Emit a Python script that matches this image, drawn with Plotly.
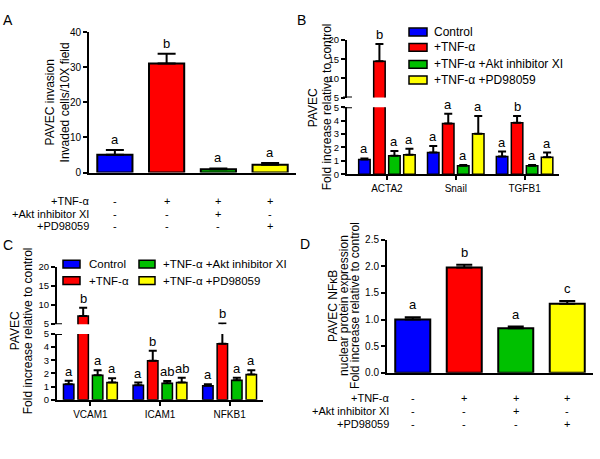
import plotly.graph_objects as go

FONT = "Arial, Liberation Sans, Helvetica, sans-serif"
COLORS = ["#0000FF", "#FF0000", "#00C000", "#FFFF00"]
SERIES = ["Control", "+TNF-α", "+TNF-α +Akt inhibitor XI", "+TNF-α +PD98059"]

# ---------------- Panel A: invasion ----------------
a_values = [5.1, 31.1, 0.9, 2.2]
a_errors = [1.3, 2.8, 0.25, 0.5]
a_letters = ["a", "b", "a", "a"]

# treatment table (shared by A and D)
row_labels = ["+TNF-α", "+Akt inhibitor XI", "+PD98059"]
row_tnf = ["-", "+", "+", "+"]
row_akt = ["-", "-", "+", "-"]
row_pd = ["-", "-", "-", "+"]

# ---------------- Panel B ----------------
b_genes = ["ACTA2", "Snail", "TGFB1"]
b_control = [1.09, 1.62, 1.33]
b_control_err = [0.09, 0.48, 0.36]
b_tnf = [14.5, 3.79, 3.84]
b_tnf_err = [4.5, 0.73, 0.51]
b_akt = [1.38, 0.63, 0.63]
b_akt_err = [0.36, 0.05, 0.05]
b_pd = [1.45, 3.02, 1.26]
b_pd_err = [0.46, 1.33, 0.36]
b_letters = [["a", "a", "a"], ["b", "a", "b"], ["a", "a", "a"], ["a", "a", "a"]]

# ---------------- Panel C ----------------
c_genes = ["VCAM1", "ICAM1", "NFKB1"]
c_control = [1.18, 1.10, 1.06]
c_control_err = [0.27, 0.20, 0.12]
c_tnf = [7.1, 2.96, 4.26]
c_tnf_err = [2.2, 0.76, 0.94]
c_akt = [1.85, 1.26, 1.48]
c_akt_err = [0.39, 0.17, 0.19]
c_pd = [1.30, 1.30, 1.92]
c_pd_err = [0.33, 0.37, 0.32]
c_letters = [["a", "a", "a"], ["b", "b", "b"], ["a", "ab", "a"], ["a", "ab", "a"]]

# ---------------- Panel D ----------------
d_values = [1.00, 1.98, 0.84, 1.30]
d_errors = [0.045, 0.05, 0.03, 0.05]
d_letters = ["a", "b", "a", "c"]

W, H = 600, 459


def px(x):
    return x / W


def py(y):
    return 1 - y / H


fig = go.Figure()
annotations = []
shapes = []


def err(arr, cap, thick=2):
    return dict(type="data", array=arr, arrayminus=[0] * len(arr), symmetric=False,
                color="black", thickness=thick, width=cap)


# ---- Panel A ----
a_x = list(range(len(a_values)))
fig.add_trace(go.Bar(x=a_x, y=a_values, width=0.68, marker=dict(color=COLORS, line=dict(color="black", width=2)),
                     error_y=err(a_errors, 9), xaxis="x", yaxis="y", showlegend=False))
for i, (v, e, t) in enumerate(zip(a_values, a_errors, a_letters)):
    annotations.append(dict(x=i, y=v + e, xref="x", yref="y", text=t, showarrow=False,
                            yanchor="bottom", yshift=1, font=dict(size=13)))

# ---- Panel D ----
fig.add_trace(go.Bar(x=a_x, y=d_values, width=0.68, marker=dict(color=COLORS, line=dict(color="black", width=2)),
                     error_y=err(d_errors, 8), xaxis="x4", yaxis="y6", showlegend=False))
for i, (v, e, t) in enumerate(zip(d_values, d_errors, d_letters)):
    annotations.append(dict(x=i, y=v + e, xref="x4", yref="y6", text=t, showarrow=False,
                            yanchor="bottom", yshift=3, font=dict(size=13)))


# ---- tables for A and D ----
def table(xref, label_x, rows_y):
    for rl, row, yy in zip(row_labels, [row_tnf, row_akt, row_pd], rows_y):
        annotations.append(dict(x=px(label_x), y=py(yy), xref="paper", yref="paper", text=rl,
                                showarrow=False, xanchor="right", yanchor="middle", font=dict(size=11)))
        for i, s in enumerate(row):
            annotations.append(dict(x=i, y=py(yy), xref=xref, yref="paper", text=s, showarrow=False,
                                    yanchor="middle", font=dict(size=11)))


table("x", 91, [200.7, 213.3, 226])
table("x4", 391, [402.7, 415.7, 429])


# ---- grouped broken-axis panels ----
def grouped(series_vals, series_errs, letters, xa, ybot, ytop, step, w, cap):
    n = len(series_vals[0])
    xs = list(range(n))
    for si, (vals, errs) in enumerate(zip(series_vals, series_errs)):
        off = (si - 2) * step + (step - w) / 2
        for ya in (ybot, ytop):
            fig.add_trace(go.Bar(x=xs, y=vals, width=w, offset=off,
                                 marker=dict(color=COLORS[si], line=dict(color="black", width=1.5)),
                                 error_y=err(errs, cap), xaxis=xa, yaxis=ya, showlegend=False))
        for gi in range(n):
            top = vals[gi] + errs[gi]
            ya = ytop if top > 5 else ybot
            annotations.append(dict(x=gi + off + w / 2, y=top, xref=xa, yref=ya, text=letters[si][gi],
                                    showarrow=False, yanchor="bottom", yshift=0, font=dict(size=13)))


grouped([b_control, b_tnf, b_akt, b_pd], [b_control_err, b_tnf_err, b_akt_err, b_pd_err], b_letters,
        "x2", "y2", "y3", 0.218, 0.167, 4)
grouped([c_control, c_tnf, c_akt, c_pd], [c_control_err, c_tnf_err, c_akt_err, c_pd_err], c_letters,
        "x3", "y4", "y5", 0.208, 0.15, 4)

# break marks
for yref, xpix in (("y2", 347), ("y3", 347), ("y4", 57), ("y5", 57)):
    shapes.append(dict(type="line", xref="paper", yref=yref, x0=px(xpix - 4), x1=px(xpix + 5), y0=5, y1=5,
                       line=dict(color="black", width=2)))


# legends
def legend_box(x0, x1, yc, color, text, tx, fs):
    shapes.append(dict(type="rect", xref="paper", yref="paper", x0=px(x0), x1=px(x1),
                       y0=py(yc + 4), y1=py(yc - 4), fillcolor=color, line=dict(color="black", width=1.5)))
    annotations.append(dict(x=px(tx), y=py(yc), xref="paper", yref="paper", text=text, showarrow=False,
                            xanchor="left", yanchor="middle", font=dict(size=fs)))


for si, yc in enumerate([26.7, 42.5, 60, 76]):
    legend_box(409, 427, yc, COLORS[si], SERIES[si], 432, 12)
for si, (x0, x1, tx, yc) in enumerate([(63, 80, 87, 265), (63, 80, 87, 282), (139, 155, 161, 265), (139, 155, 161, 282)]):
    legend_box(x0, x1, yc, COLORS[si], SERIES[si], tx, 11.5)


# y titles
def ytitle(text, xpix, ycpix, fs=12):
    annotations.append(dict(x=px(xpix), y=py(ycpix), xref="paper", yref="paper", text=text, textangle=-90,
                            showarrow=False, xanchor="center", yanchor="middle", font=dict(size=fs)))


ytitle("PAVEC invasion", 50, 99)
ytitle("Invaded cells/10X field", 65, 99)
ytitle("PAVEC", 313, 104)
ytitle("Fold increase relative to control", 327, 104)
ytitle("PAVEC", 15, 334)
ytitle("Fold increase relative to control", 28, 334)
ytitle("PAVEC NFκB", 333, 308)
ytitle("nuclear protein expression", 344, 308)
ytitle("Fold increase relative to control", 355, 308)

# panel letters
for lab, xpix, ypix in (("A", 1, 4), ("B", 295, 4), ("C", 1, 235), ("D", 298, 234)):
    annotations.append(dict(x=px(xpix), y=py(ypix), xref="paper", yref="paper", text=lab, showarrow=False,
                            xanchor="left", yanchor="top", font=dict(size=14)))

axis_common = dict(showline=True, linecolor="black", linewidth=2, showgrid=False, zeroline=False,
                   ticks="outside", ticklen=4, tickwidth=2, tickcolor="black", tickfont=dict(size=10))
x_plain = dict(axis_common, ticks="", showticklabels=False)

fig.update_layout(
    width=W, height=H, margin=dict(l=0, r=0, t=0, b=0),
    paper_bgcolor="white", plot_bgcolor="white",
    font=dict(family=FONT, color="black"),
    showlegend=False, barmode="overlay",
    xaxis=dict(x_plain, domain=[px(89), px(296)], anchor="y", range=[-0.5, 3.5]),
    yaxis=dict(axis_common, domain=[py(171), py(27)], anchor="x", range=[0, 40], tickvals=[0, 10, 20, 30, 40]),
    xaxis2=dict(axis_common, domain=[px(347), px(559)], anchor="y2", range=[-0.58, 2.5],
                tickvals=list(range(len(b_genes))), ticktext=b_genes),
    yaxis2=dict(axis_common, domain=[py(172.7), py(104)], anchor="x2", range=[0, 5], dtick=1, tickfont=dict(size=9.5)),
    yaxis3=dict(axis_common, domain=[py(94), py(35)], anchor="x2", range=[5, 20], tickvals=[5, 10, 15, 20],
                tickfont=dict(size=9.5)),
    xaxis3=dict(axis_common, domain=[px(57), px(263)], anchor="y4", range=[-0.48, 2.48],
                tickvals=list(range(len(c_genes))), ticktext=c_genes),
    yaxis4=dict(axis_common, domain=[py(404.3), py(336.7)], anchor="x3", range=[0, 5], dtick=1, tickfont=dict(size=9.5)),
    yaxis5=dict(axis_common, domain=[py(326.7), py(267.7)], anchor="x3", range=[5, 20], tickvals=[5, 10, 15, 20],
                tickfont=dict(size=9.5)),
    xaxis4=dict(x_plain, domain=[px(387), px(593)], anchor="y6", range=[-0.5, 3.5]),
    yaxis6=dict(axis_common, domain=[py(376.7), py(240)], anchor="x4", range=[0, 2.5], dtick=0.5, tickformat=".1f"),
    annotations=annotations, shapes=shapes,
)

fig.write_html("out.html", config={"displayModeBar": False},
               post_script="document.body.style.margin='0';document.body.style.overflow='hidden';")
